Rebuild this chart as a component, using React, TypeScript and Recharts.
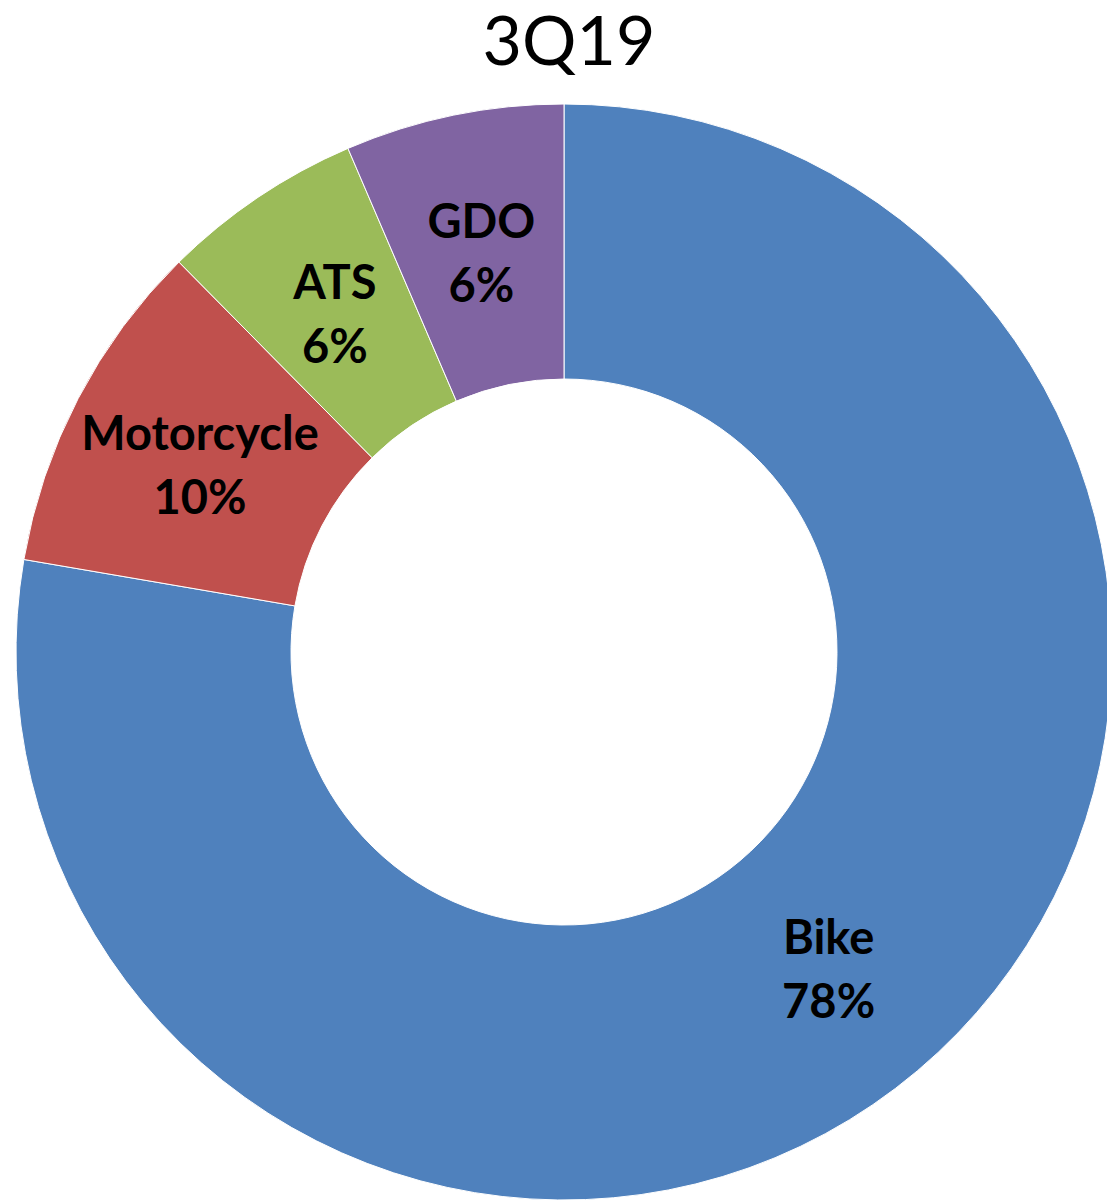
import React from "react";
import { PieChart, Pie, Cell } from "recharts";

const categories = ["Bike", "Motorcycle", "ATS", "GDO"];
const shares = [77.7, 9.9, 5.95, 6.45];
const colors = ["#4F81BD", "#C0504D", "#9BBB59", "#8064A2"];

const data = categories.map((name, i) => ({ name, value: shares[i] }));

const RADIAN = Math.PI / 180;

const renderLabel = (props: any) => {
  const { cx, cy, midAngle, innerRadius, outerRadius, name, value } = props;
  const r = (innerRadius + outerRadius) / 2;
  const x = cx + r * Math.cos(-midAngle * RADIAN);
  const y = cy + r * Math.sin(-midAngle * RADIAN);
  return (
    <text
      x={x}
      y={y}
      textAnchor="middle"
      fill="#000"
      fontFamily="Lato, 'Open Sans', sans-serif"
      fontWeight={700}
      fontSize={47}
    >
      <tspan x={x} y={y - 30} dominantBaseline="central">
        {name}
      </tspan>
      <tspan x={x} y={y + 34} dominantBaseline="central">
        {Math.round(value)}%
      </tspan>
    </text>
  );
};

export default function App() {
  return (
    <div style={{ position: "relative", width: 1107, height: 1202, background: "#fff" }}>
      <style>{"body{margin:0}"}</style>
      <div
        style={{
          position: "absolute",
          left: 0,
          top: -3,
          width: 1138,
          textAlign: "center",
          fontFamily: "Lato, sans-serif",
          fontSize: 68,
          lineHeight: "84px",
          color: "#000",
        }}
      >
        3Q19
      </div>
      <PieChart
        width={1107}
        height={1202}
        margin={{ top: 0, right: 0, bottom: 0, left: 0 }}
        style={{ position: "absolute", left: 0, top: 0 }}
      >
        <Pie
          data={data}
          dataKey="value"
          nameKey="name"
          cx={564}
          cy={652}
          innerRadius={273}
          outerRadius={548}
          startAngle={90}
          endAngle={-270}
          stroke="#fff"
          strokeWidth={1}
          label={renderLabel}
          labelLine={false}
          isAnimationActive={false}
        >
          {data.map((d, i) => (
            <Cell key={d.name} fill={colors[i]} />
          ))}
        </Pie>
      </PieChart>
    </div>
  );
}
